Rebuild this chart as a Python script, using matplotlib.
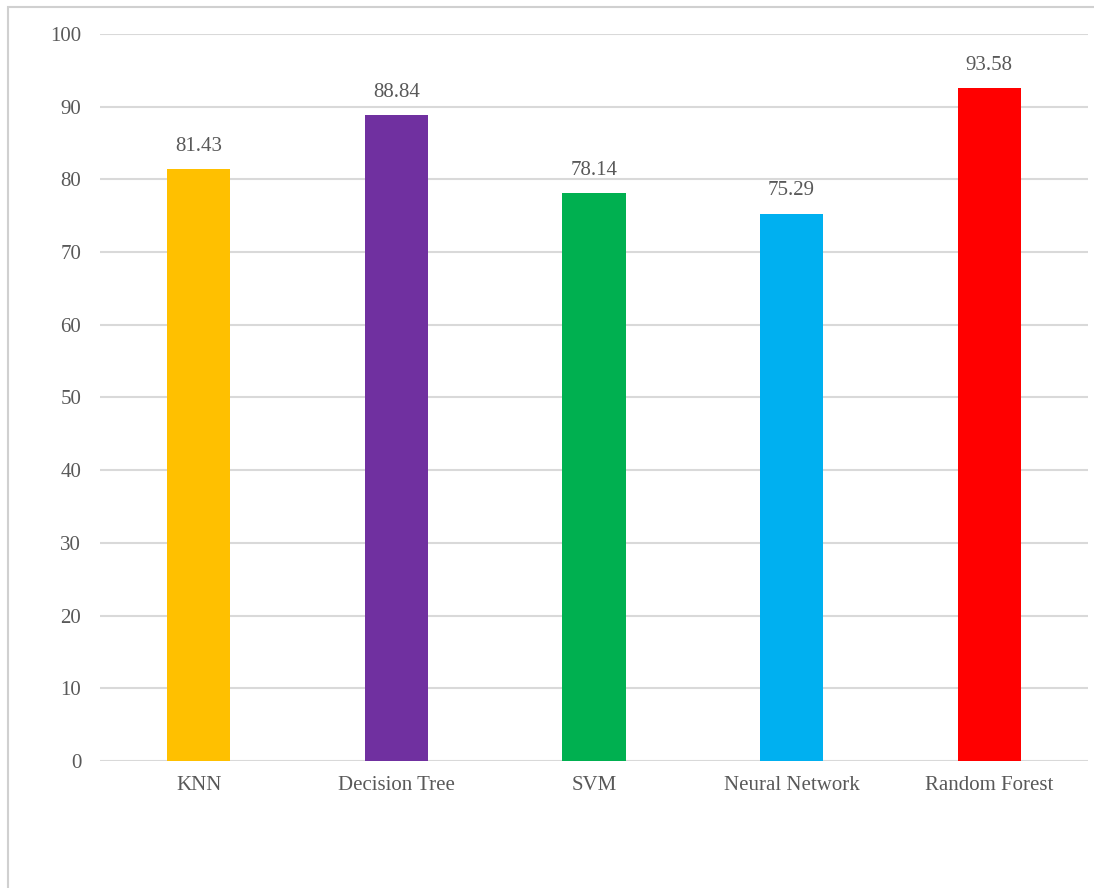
## Accuracy of the classifiers, drawn as an Excel-style bar chart

import matplotlib
matplotlib.use('Agg')
import matplotlib.pyplot as plt
from matplotlib.patches import Rectangle


## Data

models = ['KNN', 'Decision Tree', 'SVM', 'Neural Network', 'Random Forest']
bar_heights = [81.43, 88.84, 78.14, 75.29, 92.58]   # Random Forest bar sits lower than its label
bar_labels = ['81.43', '88.84', '78.14', '75.29', '93.58']
colours = ['#FFC000', '#7030A0', '#00B050', '#00B0F0', '#FF0000']
y_ticks = [0, 10, 20, 30, 40, 50, 60, 70, 80, 90, 100]


## Plot

plt.rcParams['font.family'] = ['Liberation Serif', 'DejaVu Serif']
text_col = '#595959'

fig = plt.figure(figsize=(10.94, 8.88), dpi=100)
ax = fig.add_axes([100/1094, 127/888, 988/1094, 727/888])

x = range(len(models))
ax.bar(x, bar_heights, width=0.32, color=colours, zorder=3)

for i, (h, lab) in enumerate(zip(bar_heights, bar_labels)):
    ax.annotate(lab, (i, h), xytext=(0, 16.5), textcoords='offset points',
                ha='center', va='center', fontsize=15, color=text_col)

ax.set_xlim(-0.5, len(models) - 0.5)
ax.set_ylim(0, 100)
ax.set_yticks(y_ticks)
ax.set_xticks(list(x))
ax.set_xticklabels(models)
ax.tick_params(axis='both', length=0, labelsize=15, labelcolor=text_col)
ax.tick_params(axis='y', pad=13.5)
ax.tick_params(axis='x', pad=11)
ax.grid(axis='y', color='#d9d9d9', linewidth=1.5, zorder=0)
for s in ax.spines.values():
    s.set_visible(False)

## Chart area border
fig.patches.append(Rectangle((8/1094, -0.01), 1.02, 1 - 7/888 + 0.01,
                             transform=fig.transFigure, fill=False,
                             edgecolor='#d0d0d0', linewidth=1.5))

fig.savefig('out.png', dpi=100)
